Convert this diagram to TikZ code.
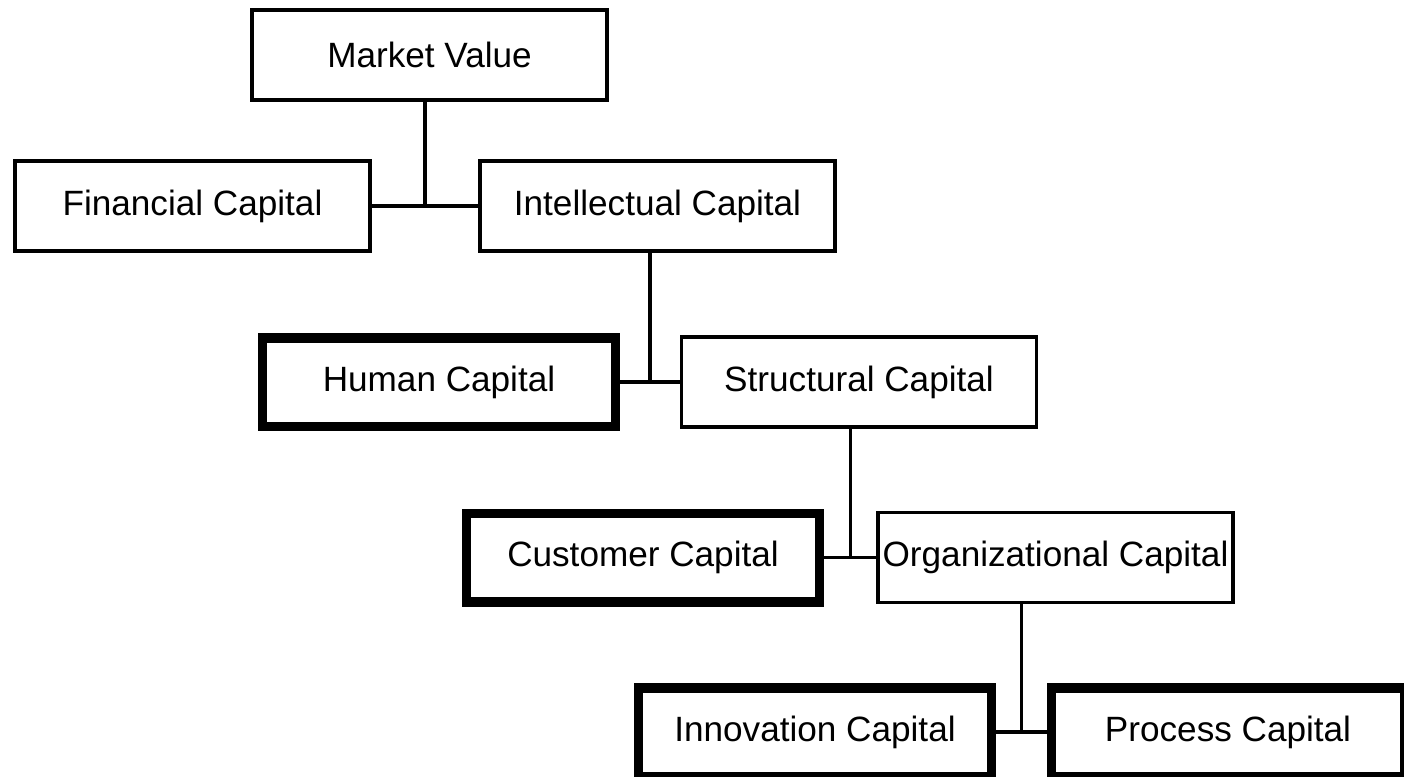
\documentclass[tikz,border=0pt]{standalone}
\usepackage{fontspec}
\setmainfont{Liberation Sans}
\usepackage{tikz}
\usetikzlibrary{calc}

\tikzset{
    capbox/.style={draw, line width=1pt, inner sep=0pt, minimum width=3.55cm, minimum height=0.9cm},
    corebox/.style={draw, line width=0.095cm, inner sep=0pt, minimum width=3.53cm, minimum height=0.885cm},
    link/.style={line width=1pt}
}

\begin{document}
\begin{tikzpicture}
    \useasboundingbox (0,0) rectangle (14.04,7.76);

    \node[capbox] at (4.295,7.21) (market) {Market Value};

    \node[capbox] at (1.925,5.70) (financial) {Financial Capital};
    \node[capbox] at (6.575,5.70) (intellectual) {Intellectual Capital};

    \node[corebox] at (4.39,3.94) (human) {Human Capital};
    \node[capbox] at (8.59,3.94) (structural) {Structural Capital};

    \node[corebox] at (6.43,2.185) (customer) {Customer Capital};
    \node[capbox] at (10.555,2.185) (organizational) {Organizational Capital};

    \node[corebox] at (8.15,0.44) (innovation) {Innovation Capital};
    \node[corebox] at (12.28,0.44) (process) {Process Capital};

    \coordinate (j1) at ($(financial.east)!0.5!(intellectual.west)$);
    \coordinate (j2) at ($(human.east)!0.5!(structural.west)$);
    \coordinate (j3) at ($(customer.east)!0.5!(organizational.west)$);
    \coordinate (j4) at ($(innovation.east)!0.5!(process.west)$);

    \draw[link] (financial.east) -- (intellectual.west);
    \draw[link] (market.south -| j1) -- (j1);

    \draw[link] (human.east) -- (structural.west);
    \draw[link] (intellectual.south -| j2) -- (j2);

    \draw[link] (customer.east) -- (organizational.west);
    \draw[link] (structural.south -| j3) -- (j3);

    \draw[link] (innovation.east) -- (process.west);
    \draw[link] (organizational.south -| j4) -- (j4);
\end{tikzpicture}
\end{document}
